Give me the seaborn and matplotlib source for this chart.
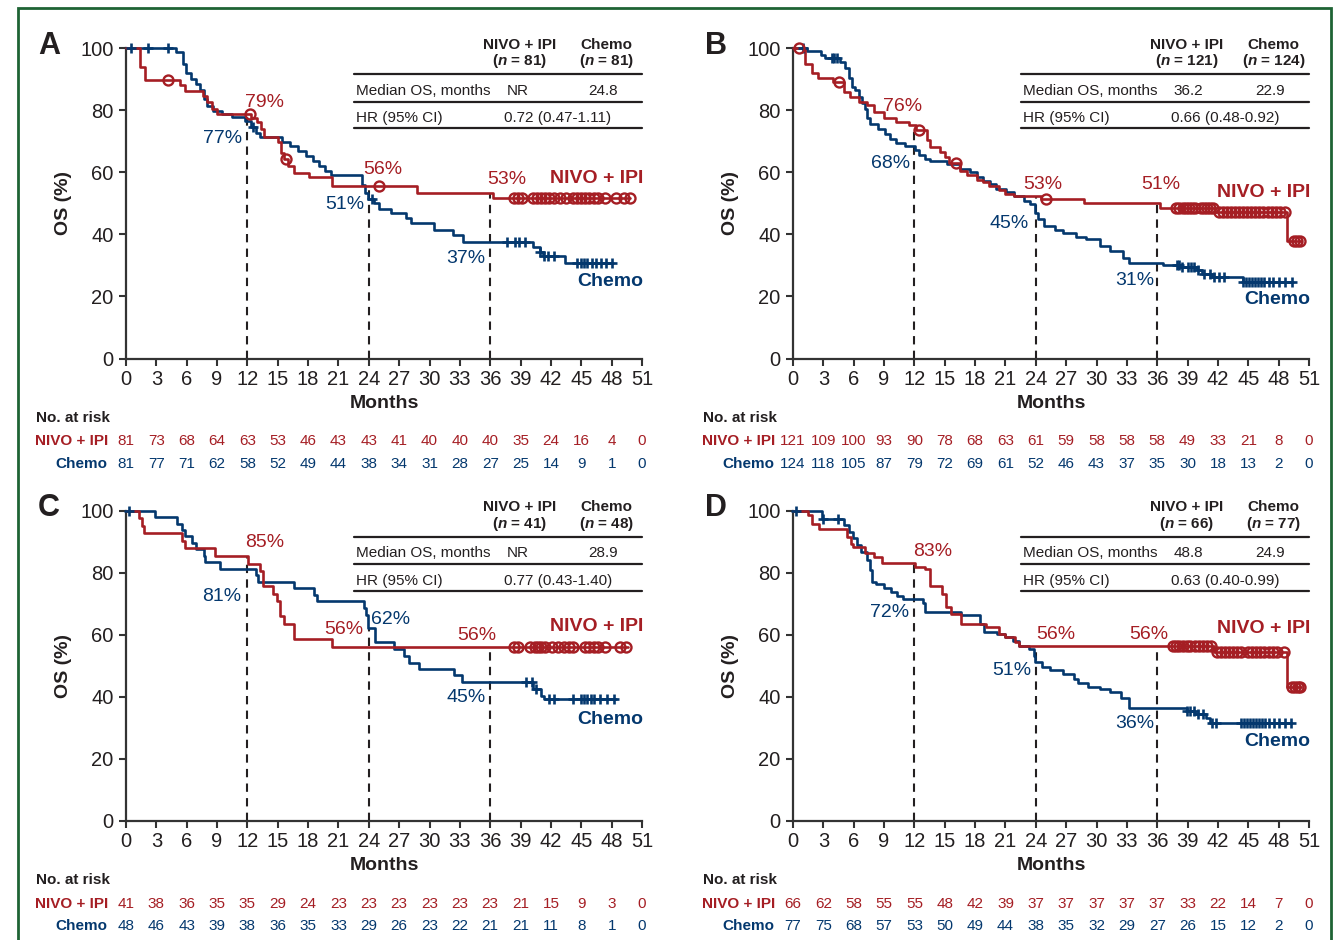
import numpy as np
import pandas as pd
import matplotlib
matplotlib.use("Agg")
import matplotlib.pyplot as plt
import matplotlib.transforms as mtransforms
from matplotlib.patches import Rectangle
import seaborn as sns

# ---------------- data ----------------
month_ticks = list(range(0, 52, 3))
os_ticks = [0, 20, 40, 60, 80, 100]
landmarks = [12, 24, 36]

# Panel A
A_nivo_t = [1.4, 1.9, 5.3, 5.8, 7.6, 8.0, 8.5, 9.0, 12.4, 12.9, 13.3, 13.6, 15.0, 15.3, 15.6, 16.0, 16.6, 18.1, 20.4, 28.8, 36.3]
A_nivo_s = [94.0, 89.7, 88.1, 86.3, 84.5, 82.5, 80.5, 78.8, 77.5, 76.2, 73.8, 71.2, 69.6, 66.3, 64.2, 62.0, 59.9, 58.3, 55.6, 53.4, 51.8]
A_nivo_end = 49.8
A_nivo_cens = [4.2, 12.3, 15.8, 25.0, 38.3, 38.7, 39.1, 40.2, 40.6, 41.0, 41.4, 41.8, 42.3, 42.9, 43.5, 44.2, 44.6, 45.0, 45.4, 45.8, 46.3, 46.7, 47.3, 48.4, 49.2, 49.8]
A_chemo_t = [4.9, 5.6, 5.9, 6.4, 6.9, 7.3, 7.7, 8.0, 8.6, 9.5, 10.5, 11.8, 12.4, 12.8, 13.2, 15.4, 16.2, 17.0, 17.8, 18.5, 19.1, 19.7, 20.3, 23.3, 23.6, 23.9, 24.5, 25.0, 26.2, 27.7, 28.2, 30.4, 32.3, 33.3, 40.2, 40.9, 41.2, 43.4]
A_chemo_s = [98.8, 95.0, 92.0, 90.0, 88.5, 86.5, 83.6, 81.4, 79.8, 78.7, 77.7, 76.6, 74.5, 72.5, 71.2, 69.6, 68.5, 66.9, 65.3, 63.6, 62.0, 60.4, 59.0, 56.0, 53.4, 51.5, 50.2, 48.2, 46.7, 45.1, 43.7, 41.3, 39.7, 37.6, 36.0, 34.4, 33.0, 30.9]
A_chemo_end = 48.1
A_chemo_cens = [0.5, 2.2, 4.2, 12.6, 24.3, 37.7, 38.4, 38.8, 39.4, 40.9, 41.3, 41.7, 42.3, 44.6, 45.0, 45.3, 45.6, 46.1, 46.5, 46.9, 47.4, 48.0]
A_nivo_risk = [81, 73, 68, 64, 63, 53, 46, 43, 43, 41, 40, 40, 40, 35, 24, 16, 4, 0]
A_chemo_risk = [81, 77, 71, 62, 58, 52, 49, 44, 38, 34, 31, 28, 27, 25, 14, 9, 1, 0]
A_n = ["81", "81"]
A_median = ["NR", "24.8"]
A_hr = "0.72 (0.47-1.11)"
A_pct = [(13.7, 82.6, "79%", "nivo"), (9.5, 71.0, "77%", "chemo"), (25.4, 61.0, "56%", "nivo"),
         (21.6, 49.7, "51%", "chemo"), (37.6, 57.7, "53%", "nivo"), (33.6, 32.3, "37%", "chemo")]
A_lab = [58.0, 24.8]

# Panel B
B_nivo_t = [1.2, 1.9, 2.5, 4.0, 5.0, 5.6, 6.5, 7.3, 8.0, 9.0, 10.2, 11.5, 12.2, 13.2, 13.5, 14.5, 15.0, 15.4, 16.5, 17.2, 18.2, 18.8, 19.4, 20.4, 21.0, 21.8, 24.5, 28.8, 36.3, 41.7, 48.8]
B_nivo_s = [95.0, 91.8, 90.2, 89.0, 85.9, 84.3, 82.7, 81.6, 79.5, 77.3, 76.2, 75.2, 73.6, 70.4, 68.2, 66.6, 65.0, 63.1, 60.3, 59.2, 57.6, 56.7, 55.5, 54.4, 53.1, 52.3, 51.4, 50.1, 48.5, 47.2, 37.8]
B_nivo_end = 50.2
B_nivo_cens = [0.6, 4.5, 12.5, 16.1, 25.0, 37.9, 38.2, 38.5, 38.8, 39.1, 39.4, 39.7, 40.3, 40.6, 40.9, 41.2, 41.5, 42.1, 42.5, 42.9, 43.3, 43.7, 44.1, 44.5, 44.9, 45.3, 45.7, 46.1, 46.5, 46.9, 47.3, 47.7, 48.1, 48.6, 49.5, 49.8, 50.1]
B_chemo_t = [1.35, 2.8, 3.2, 4.6, 5.1, 5.5, 5.8, 6.1, 6.5, 6.8, 7.1, 7.3, 7.6, 8.4, 9.1, 9.6, 10.2, 11.1, 12.1, 12.5, 13.0, 13.5, 15.2, 16.5, 17.5, 18.2, 18.8, 19.5, 20.1, 21.1, 21.8, 22.8, 23.4, 23.9, 24.2, 24.8, 25.9, 26.7, 28.0, 29.0, 30.3, 31.3, 32.6, 33.2, 36.6, 38.3, 39.9, 40.4, 41.4, 44.5]
B_chemo_s = [98.9, 97.8, 96.8, 95.5, 93.4, 90.2, 87.5, 86.4, 84.3, 82.2, 80.5, 77.3, 75.6, 74.0, 72.4, 70.8, 69.4, 68.3, 67.0, 65.4, 64.3, 63.6, 62.7, 61.1, 60.0, 58.4, 57.3, 56.2, 54.6, 53.5, 52.4, 50.8, 49.7, 47.0, 44.8, 42.6, 41.5, 40.5, 39.2, 38.5, 36.1, 34.5, 32.4, 30.7, 30.0, 29.5, 28.4, 27.3, 26.3, 24.6]
B_chemo_end = 49.4
B_chemo_cens = [1.0, 3.9, 4.1, 4.3, 38.0, 38.2, 38.4, 39.0, 39.3, 39.6, 40.0, 40.6, 41.2, 41.6, 42.1, 42.6, 44.5, 44.8, 45.1, 45.4, 45.7, 46.0, 46.3, 46.6, 47.0, 47.4, 48.0, 48.6, 49.3]
B_nivo_risk = [121, 109, 100, 93, 90, 78, 68, 63, 61, 59, 58, 58, 58, 49, 33, 21, 8, 0]
B_chemo_risk = [124, 118, 105, 87, 79, 72, 69, 61, 52, 46, 43, 37, 35, 30, 18, 13, 2, 0]
B_n = ["121", "124"]
B_median = ["36.2", "22.9"]
B_hr = "0.66 (0.48-0.92)"
B_pct = [(10.8, 81.0, "76%", "nivo"), (9.6, 62.9, "68%", "chemo"), (24.7, 56.1, "53%", "nivo"),
         (21.4, 43.5, "45%", "chemo"), (36.4, 56.1, "51%", "nivo"), (33.8, 25.2, "31%", "chemo")]
B_lab = [53.5, 19.0]

# Panel C
C_nivo_t = [1.3, 1.6, 1.8, 5.5, 5.8, 8.8, 12.1, 13.2, 13.5, 14.5, 14.9, 15.2, 15.6, 16.6, 20.4]
C_nivo_s = [97.6, 95.1, 92.7, 90.2, 87.8, 85.4, 82.9, 80.5, 75.6, 73.2, 70.7, 65.9, 63.4, 58.5, 56.1]
C_nivo_end = 49.6
C_nivo_cens = [38.3, 38.7, 39.9, 40.4, 40.7, 41.0, 41.4, 42.1, 42.7, 43.3, 43.8, 44.2, 45.4, 45.8, 46.3, 46.7, 47.3, 48.8, 49.4]
C_chemo_t = [2.9, 5.0, 5.5, 5.8, 6.5, 6.9, 7.7, 7.8, 9.3, 12.8, 13.0, 16.6, 18.6, 18.9, 23.5, 23.7, 23.9, 24.6, 26.5, 27.5, 28.0, 29.0, 32.4, 33.2, 40.2, 41.0, 41.3]
C_chemo_s = [97.9, 95.8, 93.8, 91.7, 89.6, 87.5, 85.4, 83.3, 81.2, 79.2, 77.1, 75.0, 72.9, 70.8, 68.6, 66.4, 62.1, 57.7, 55.4, 53.2, 50.9, 48.9, 47.0, 44.7, 42.5, 40.2, 39.3]
C_chemo_end = 48.4
C_chemo_cens = [0.3, 39.5, 40.1, 40.5, 41.8, 42.3, 44.2, 45.0, 45.3, 45.6, 46.0, 46.3, 46.8, 47.5, 48.2]
C_nivo_risk = [41, 38, 36, 35, 35, 29, 24, 23, 23, 23, 23, 23, 23, 21, 15, 9, 3, 0]
C_chemo_risk = [48, 46, 43, 39, 38, 36, 35, 33, 29, 26, 23, 22, 21, 21, 11, 8, 1, 0]
C_n = ["41", "48"]
C_median = ["NR", "28.9"]
C_hr = "0.77 (0.43-1.40)"
C_pct = [(13.7, 89.6, "85%", "nivo"), (9.5, 72.2, "81%", "chemo"), (21.5, 61.8, "56%", "nivo"),
         (26.1, 65.0, "62%", "chemo"), (34.7, 59.9, "56%", "nivo"), (33.6, 39.8, "45%", "chemo")]
C_lab = [62.8, 32.7]

# Panel D
D_nivo_t = [1.5, 1.9, 2.6, 5.3, 5.7, 5.9, 7.1, 8.0, 8.8, 12.1, 13.0, 13.5, 14.7, 15.1, 15.6, 16.6, 19.1, 20.4, 21.0, 21.9, 22.3, 41.6, 48.8]
D_nivo_s = [98.5, 95.5, 93.9, 91.6, 89.2, 88.1, 86.4, 84.9, 83.2, 81.9, 81.3, 75.6, 73.2, 68.9, 66.7, 63.5, 62.4, 60.3, 59.2, 57.6, 56.5, 54.3, 43.2]
D_nivo_end = 50.2
D_nivo_cens = [37.6, 37.9, 38.2, 38.5, 38.9, 39.2, 39.7, 40.1, 40.5, 40.9, 41.3, 41.9, 42.3, 42.7, 43.1, 43.5, 43.9, 44.3, 45.0, 45.4, 45.8, 46.2, 46.6, 47.0, 47.4, 47.8, 48.5, 49.3, 49.6, 49.9, 50.1]
D_chemo_t = [2.9, 5.0, 5.5, 5.9, 6.3, 6.7, 7.3, 7.6, 7.8, 8.2, 9.0, 9.7, 10.3, 10.9, 12.8, 13.0, 16.6, 18.5, 18.9, 20.2, 21.0, 21.7, 22.3, 23.3, 23.8, 23.95, 24.6, 25.4, 26.7, 27.8, 28.2, 29.2, 30.3, 31.3, 32.4, 33.2, 38.9, 39.7, 40.8, 41.2]
D_chemo_s = [97.4, 95.4, 93.2, 91.0, 88.8, 86.7, 84.0, 80.8, 77.0, 76.2, 75.2, 73.8, 72.4, 71.6, 70.2, 67.3, 66.2, 63.5, 60.8, 60.3, 59.2, 57.9, 56.5, 55.4, 53.2, 51.1, 49.5, 48.6, 47.3, 45.7, 44.6, 43.2, 42.4, 41.4, 39.7, 36.3, 35.4, 34.6, 33.3, 31.6]
D_chemo_end = 49.2
D_chemo_cens = [0.3, 3.0, 4.4, 38.9, 39.2, 39.6, 40.0, 40.5, 41.4, 41.8, 44.3, 44.6, 44.9, 45.2, 45.5, 45.8, 46.1, 46.4, 46.7, 47.0, 47.5, 48.0, 48.6, 49.2]
D_nivo_risk = [66, 62, 58, 55, 55, 48, 42, 39, 37, 37, 37, 37, 37, 33, 22, 14, 7, 0]
D_chemo_risk = [77, 75, 68, 57, 53, 50, 49, 44, 38, 35, 32, 29, 27, 26, 15, 12, 2, 0]
D_n = ["66", "77"]
D_median = ["48.8", "24.9"]
D_hr = "0.63 (0.40-0.99)"
D_pct = [(13.8, 86.7, "83%", "nivo"), (9.5, 67.0, "72%", "chemo"), (26.0, 60.2, "56%", "nivo"),
         (21.6, 48.5, "51%", "chemo"), (35.2, 60.2, "56%", "nivo"), (33.8, 31.4, "36%", "chemo")]
D_lab = [62.1, 25.6]

arm_names = ["NIVO + IPI", "Chemo"]

# ---------------- style ----------------
sns.set_theme(style="white")
plt.rcParams['font.family'] = ['Liberation Sans', 'DejaVu Sans']
plt.rcParams['mathtext.fontset'] = 'custom'
plt.rcParams['mathtext.it'] = 'Liberation Sans:italic:bold'
plt.rcParams['mathtext.rm'] = 'Liberation Sans:bold'
plt.rcParams['mathtext.bf'] = 'Liberation Sans:bold'

RED = '#A51E24'
BLUE = '#04386E'
INK = '#231F20'
AX = '#333333'
W, H = 1334, 940
fig = plt.figure(figsize=(W / 100, H / 100), dpi=100)
fig.patch.set_facecolor('white')

AW, AH = 516, 310.5


def km_frame(times, surv, end):
    t = [0.0] + list(times) + [end]
    s = [100.0] + list(surv) + [surv[-1]]
    return pd.DataFrame({"t": t, "s": s})


def step_at(times, surv, x):
    idx = np.searchsorted(np.asarray(times), np.asarray(x), side='right')
    vals = np.concatenate([[100.0], np.asarray(surv)])
    return vals[idx]


def ypx(y):
    return 1 - y / H


def draw_panel(letter, x0, y0, nivo, chemo, nrisk, crisk, n, median, hr, pct, lab):
    ax = fig.add_axes([x0 / W, 1 - (y0 + AH) / H, AW / W, AH / H])
    ax.set_xlim(0, 51)
    ax.set_ylim(0, 100)
    ax.set_facecolor('none')
    for sp in ['top', 'right']:
        ax.spines[sp].set_visible(False)
    for sp in ['left', 'bottom']:
        ax.spines[sp].set_color(AX)
        ax.spines[sp].set_linewidth(1.6)
    ax.set_xticks(month_ticks)
    ax.set_yticks(os_ticks)
    ax.tick_params(axis='both', which='major', direction='out', length=5, width=1.5,
                   color=AX, labelsize=14.5, labelcolor=INK, bottom=True, left=True)
    ax.tick_params(axis='x', pad=3)
    ax.tick_params(axis='y', pad=4)
    ax.set_xlabel("")
    ax.set_ylabel("")

    # landmark dashed lines
    for lm in landmarks:
        top = max(step_at(nivo[0], nivo[1], lm), step_at(chemo[0], chemo[1], lm))
        ax.plot([lm, lm], [0, top], color=INK, lw=1.5, ls=(0, (4, 3)), zorder=1)

    # KM curves
    for (tt, ss, end, cens), col, mk in [(chemo, BLUE, '+'), (nivo, RED, 'o')]:
        df = km_frame(tt, ss, end)
        sns.lineplot(data=df, x="t", y="s", drawstyle='steps-post', estimator=None, sort=False,
                     color=col, lw=1.9, ax=ax, zorder=3)
        ax.get_lines()[-1].set_clip_on(False)
        cy = step_at(tt, ss, cens)
        if mk == 'o':
            ax.plot(cens, cy, ls='none', marker='o', ms=7.2, mfc='none', mec=col, mew=1.7,
                    clip_on=False, zorder=4)
        else:
            ax.plot(cens, cy, ls='none', marker='+', ms=7.5, mec=col, mew=1.9,
                    clip_on=False, zorder=4)
    ax.set_xlabel("")
    ax.set_ylabel("")

    # percent labels
    for (mx, my, txt, arm) in pct:
        ax.text(mx, my, txt, color=RED if arm == "nivo" else BLUE, fontsize=14,
                ha='center', va='center', zorder=5)
    ax.text(51.1, lab[0], "NIVO + IPI", color=RED, fontsize=14, fontweight='bold',
            ha='right', va='center')
    ax.text(51.1, lab[1], "Chemo", color=BLUE, fontsize=14, fontweight='bold',
            ha='right', va='center')

    # axis labels and panel letter
    ax.text(-6.2, 50, "OS (%)", rotation=90, fontsize=14, fontweight='bold', color=INK,
            ha='center', va='center')
    trans = mtransforms.blended_transform_factory(ax.transData, fig.transFigure)
    ax.text(25.5, ypx(y0 + 355), "Months", transform=trans, fontsize=14, fontweight='bold',
            color=INK, ha='center', va='center')
    ax.text(-7.6, 100.8, letter, fontsize=22, fontweight='bold', color=INK, ha='center', va='center')

    # summary table
    ax.text(38.9, 101.0, "NIVO + IPI", fontsize=11, fontweight='bold', color=INK, ha='center', va='center')
    ax.text(47.5, 101.0, "Chemo", fontsize=11, fontweight='bold', color=INK, ha='center', va='center')
    ax.text(38.9, 95.7, "($n$ = %s)" % n[0], fontsize=11, fontweight='bold', color=INK, ha='center', va='center')
    ax.text(47.5, 95.7, "($n$ = %s)" % n[1], fontsize=11, fontweight='bold', color=INK, ha='center', va='center')
    for yy in [91.6, 82.7, 74.1]:
        ax.plot([22.5, 51.0], [yy, yy], color=INK, lw=1.6, clip_on=False, zorder=2)
    ax.text(22.7, 86.3, "Median OS, months", fontsize=11, color=INK, ha='left', va='center')
    ax.text(37.6, 86.3, median[0], fontsize=11, color=INK, ha='left', va='center')
    ax.text(47.2, 86.3, median[1], fontsize=11, color=INK, ha='center', va='center')
    ax.text(22.7, 77.4, "HR (95% CI)", fontsize=11, color=INK, ha='left', va='center')
    ax.text(42.7, 77.4, hr, fontsize=11, color=INK, ha='center', va='center')

    # at-risk table
    ax.text(-8.9, ypx(y0 + 370), "No. at risk", transform=trans, fontsize=11, fontweight='bold',
            color=INK, ha='left', va='center')
    ax.text(-1.8, ypx(y0 + 393), arm_names[0], transform=trans, fontsize=11, fontweight='bold',
            color=RED, ha='right', va='center')
    ax.text(-1.8, ypx(y0 + 416), arm_names[1], transform=trans, fontsize=11, fontweight='bold',
            color=BLUE, ha='right', va='center')
    for mt, a, b in zip(month_ticks, nrisk, crisk):
        ax.text(mt, ypx(y0 + 393), str(a), transform=trans, fontsize=11, color=RED,
                ha='center', va='center')
        ax.text(mt, ypx(y0 + 416), str(b), transform=trans, fontsize=11, color=BLUE,
                ha='center', va='center')
    return ax


draw_panel("A", 126, 48, (A_nivo_t, A_nivo_s, A_nivo_end, A_nivo_cens),
           (A_chemo_t, A_chemo_s, A_chemo_end, A_chemo_cens), A_nivo_risk, A_chemo_risk,
           A_n, A_median, A_hr, A_pct, A_lab)
draw_panel("B", 793, 48, (B_nivo_t, B_nivo_s, B_nivo_end, B_nivo_cens),
           (B_chemo_t, B_chemo_s, B_chemo_end, B_chemo_cens), B_nivo_risk, B_chemo_risk,
           B_n, B_median, B_hr, B_pct, B_lab)
draw_panel("C", 126, 510.5, (C_nivo_t, C_nivo_s, C_nivo_end, C_nivo_cens),
           (C_chemo_t, C_chemo_s, C_chemo_end, C_chemo_cens), C_nivo_risk, C_chemo_risk,
           C_n, C_median, C_hr, C_pct, C_lab)
draw_panel("D", 793, 510.5, (D_nivo_t, D_nivo_s, D_nivo_end, D_nivo_cens),
           (D_chemo_t, D_chemo_s, D_chemo_end, D_chemo_cens), D_nivo_risk, D_chemo_risk,
           D_n, D_median, D_hr, D_pct, D_lab)

# green frame
fig.patches.append(Rectangle((18 / W, -0.05), (1331 - 18) / W, 1 - 8 / H + 0.05,
                             transform=fig.transFigure, fill=False, edgecolor='#1E6334',
                             lw=2.0, zorder=0))

fig.savefig("out.png", dpi=100, facecolor='white')
